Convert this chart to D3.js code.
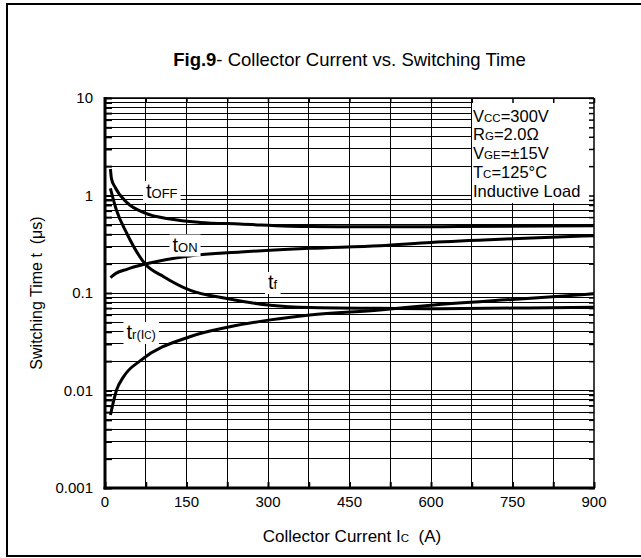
<!DOCTYPE html>
<html>
<head>
<meta charset="utf-8">
<title>Fig.9</title>
<style>
  body { margin: 0; background: #fff; }
  text { font-family: "Liberation Sans", Arial, sans-serif; fill: #000; }
</style>
</head>
<body>
<div id="chart"></div>
<script src="https://cdn.jsdelivr.net/npm/d3@7/dist/d3.min.js"></script>
<script>
// collector current ticks (A) and switching time ticks (us)
var currentTicks = [0, 150, 300, 450, 600, 750, 900];
var timeTicks = [10, 1, 0.1, 0.01, 0.001];

// curves: current (A) / time (us)
var tOffI = [10, 12, 18, 40, 74, 120, 175, 248, 377, 506, 650, 900];
var tOffT = [1.87, 1.48, 1.23, 0.85, 0.66, 0.574, 0.53, 0.51, 0.48, 0.477, 0.48, 0.49];

var tOnI = [10, 20, 40, 74, 156, 250, 377, 506, 600, 750, 900];
var tOnT = [0.144, 0.159, 0.175, 0.198, 0.24, 0.263, 0.287, 0.306, 0.33, 0.36, 0.387];

var tfI = [10, 21, 40, 74, 108, 156, 224, 304, 377, 506, 600, 750, 900];
var tfT = [1.18, 0.71, 0.41, 0.198, 0.147, 0.107, 0.088, 0.075, 0.071, 0.0697, 0.069, 0.07, 0.0715];

var trI = [10, 21, 34, 67, 156, 230, 304, 377, 506, 600, 750, 900];
var trT = [0.0056, 0.01, 0.0138, 0.0206, 0.0356, 0.045, 0.053, 0.0595, 0.067, 0.075, 0.086, 0.098];

var legendLines = [
  ["V", "CC", "=300V"],
  ["R", "G", "=2.0\u03A9"],
  ["V", "GE", "=\u00B115V"],
  ["T", "C", "=125\u00B0C"],
  ["Inductive Load", "", ""]
];

var W = 641, H = 558;
var svg = d3.select('#chart').append('svg').attr('width', W).attr('height', H);

// outer frame (right edge runs off the picture)
svg.append('rect').attr('x', 7).attr('y', 4).attr('width', 640).attr('height', 552)
  .attr('fill', 'none').attr('stroke', '#000').attr('stroke-width', 2);

var x = d3.scaleLinear().domain([0, 900]).range([105, 594]);
var y = d3.scaleLog().domain([0.001, 10]).range([488, 98]);

// title
var title = svg.append('text').attr('x', 349.5).attr('y', 66)
  .attr('text-anchor', 'middle').style('font-size', '18.5px');
title.append('tspan').style('font-weight', 'bold').text('Fig.9');
title.append('tspan').text('- Collector Current vs. Switching Time');

// grid
var grid = svg.append('g').attr('stroke', '#000').attr('stroke-width', 1)
  .attr('shape-rendering', 'crispEdges');
grid.selectAll('.h').data(y.ticks()).enter().append('line')
  .attr('x1', x(0)).attr('x2', x(900))
  .attr('y1', function(d) { return y(d); }).attr('y2', function(d) { return y(d); });
grid.selectAll('.v').data(d3.range(75, 900, 75)).enter().append('line')
  .attr('y1', y(0.001)).attr('y2', y(10))
  .attr('x1', function(d) { return x(d); }).attr('x2', function(d) { return x(d); });

// legend box
svg.append('rect').attr('x', 472).attr('y', 99).attr('width', 121).attr('height', 104)
  .attr('fill', '#fff');
legendLines.forEach(function(l, i) {
  var t = svg.append('text').attr('x', 473).attr('y', 121.5 + i * 18.8)
    .style('font-size', '16.5px');
  t.append('tspan').text(l[0]);
  if (l[1]) t.append('tspan').style('font-size', '11.5px').text(l[1]);
  if (l[2]) t.append('tspan').text(l[2]);
});

// axes frame and ticks
var yMinor = y.ticks();
svg.append('g').attr('transform', 'translate(' + x(0) + ',0)')
  .call(d3.axisRight(y).tickValues(yMinor).tickSize(7).tickFormat(''))
  .call(function(g) { g.select('.domain').remove(); g.selectAll('line').attr('stroke-width', 2); });
svg.append('g').attr('transform', 'translate(' + x(900) + ',0)')
  .call(d3.axisLeft(y).tickValues(yMinor).tickSize(5).tickFormat(''))
  .call(function(g) { g.select('.domain').remove(); g.selectAll('line').attr('stroke-width', 1.5); });
svg.append('g').attr('transform', 'translate(0,' + y(0.001) + ')')
  .call(d3.axisTop(x).tickValues(d3.range(0, 901, 75)).tickSize(6).tickFormat(''))
  .call(function(g) { g.select('.domain').remove(); g.selectAll('line').attr('stroke-width', 2); });
svg.append('g').attr('transform', 'translate(0,' + y(10) + ')')
  .call(d3.axisBottom(x).tickValues(d3.range(0, 901, 75)).tickSize(5).tickFormat(''))
  .call(function(g) { g.select('.domain').remove(); g.selectAll('line').attr('stroke-width', 1.5); });

svg.append('line').attr('x1', x(0)).attr('x2', x(900)).attr('y1', y(10)).attr('y2', y(10))
  .attr('stroke', '#000').attr('stroke-width', 1.5);
svg.append('line').attr('x1', x(900)).attr('x2', x(900)).attr('y1', y(10)).attr('y2', y(0.001))
  .attr('stroke', '#000').attr('stroke-width', 1.5);
svg.append('line').attr('x1', x(0)).attr('x2', x(0)).attr('y1', y(10) - 1).attr('y2', y(0.001) + 1.5)
  .attr('stroke', '#000').attr('stroke-width', 3);
svg.append('line').attr('x1', x(0) - 1.5).attr('x2', x(900) + 1).attr('y1', y(0.001)).attr('y2', y(0.001))
  .attr('stroke', '#000').attr('stroke-width', 3);

// tick labels
svg.selectAll('.yl').data(timeTicks).enter().append('text')
  .attr('x', 93).attr('y', function(d) { return y(d); }).attr('dy', '0.35em')
  .attr('text-anchor', 'end').style('font-size', '15px')
  .text(function(d) { return String(d); });
svg.selectAll('.xl').data(currentTicks).enter().append('text')
  .attr('x', function(d) { return x(d); }).attr('y', 507)
  .attr('text-anchor', 'middle').style('font-size', '15px')
  .text(function(d) { return d; });

// axis titles
var xt = svg.append('text').attr('x', 352).attr('y', 541.5)
  .attr('text-anchor', 'middle').style('font-size', '17px');
xt.append('tspan').text('Collector Current I');
xt.append('tspan').style('font-size', '11.5px').text('C');
xt.append('tspan').attr('xml:space', 'preserve').text('  (A)');

svg.append('text').attr('transform', 'translate(42,293) rotate(-90)')
  .attr('text-anchor', 'middle').style('font-size', '16px')
  .attr('xml:space', 'preserve').text('Switching Time t  (\u03BCs)');

// curves
var line = d3.line()
  .x(function(d) { return x(d[0]); })
  .y(function(d) { return y(d[1]); })
  .curve(d3.curveMonotoneX);
[[tOffI, tOffT], [tOnI, tOnT], [tfI, tfT], [trI, trT]].forEach(function(s) {
  svg.append('path').datum(d3.zip(s[0], s[1])).attr('d', line)
    .attr('fill', 'none').attr('stroke', '#000').attr('stroke-width', 3);
});

// curve labels with white background
function curveLabel(px, py, sub) {
  var g = svg.append('g');
  var t = g.append('text').attr('x', px).attr('y', py).style('font-size', '20px');
  t.append('tspan').text('t');
  sub.forEach(function(s) {
    t.append('tspan').style('font-size', s[1] + 'px').text(s[0]);
  });
  var b = t.node().getBBox();
  g.insert('rect', 'text').attr('x', b.x - 3).attr('y', b.y + 1)
    .attr('width', b.width + 6).attr('height', b.height).attr('fill', '#fff');
}
curveLabel(146, 198, [['OFF', 13]]);
curveLabel(172.5, 251.5, [['ON', 13]]);
curveLabel(268, 289, [['f', 13]]);
curveLabel(126.5, 339, [['r(I', 13], ['C', 10], [')', 13]]);
</script>
</body>
</html>
